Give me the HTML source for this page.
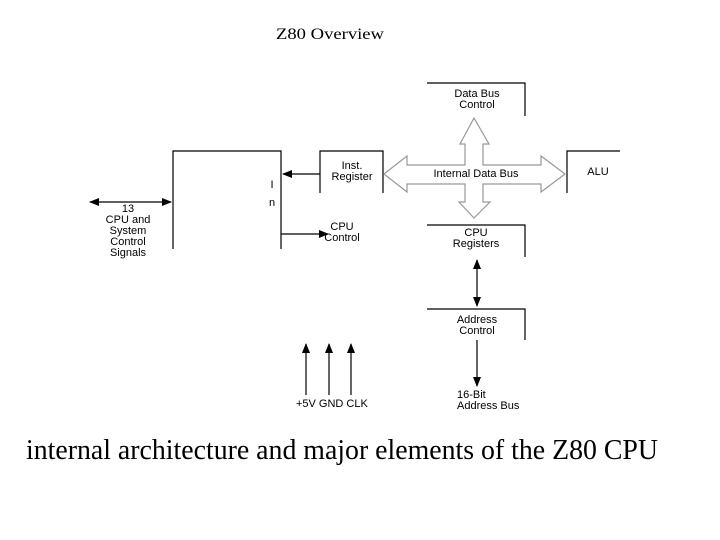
<!DOCTYPE html>
<html><head><style>
body{margin:0;background:#fff;}
svg{display:block}
.s{font-family:"Liberation Sans",sans-serif;font-size:11px;fill:#000}
</style></head><body>
<svg width="720" height="540" viewBox="0 0 720 540" xmlns="http://www.w3.org/2000/svg">
<defs>
<marker id="a" markerWidth="10" markerHeight="8" refX="9" refY="4" orient="auto" markerUnits="userSpaceOnUse"><path d="M0,0 L10,4 L0,8 Z" fill="#000"/></marker>
<marker id="b" markerWidth="10" markerHeight="8" refX="1" refY="4" orient="auto" markerUnits="userSpaceOnUse"><path d="M10,0 L0,4 L10,8 Z" fill="#000"/></marker>
</defs>
<text x="276" y="39" textLength="108" lengthAdjust="spacingAndGlyphs" font-family="Liberation Serif,serif" font-size="16">Z80 Overview</text>
<g stroke="#000" stroke-width="1.2" fill="none">
<path d="M427,83 H525 V116"/>
<path d="M173,249 V151 H281 V249"/>
<path d="M320,193 V151 H383 V193"/>
<path d="M567,193 V151 H620"/>
<path d="M427,225 H525 V257"/>
<path d="M427,309 H525 V340"/>
<line x1="320" y1="174" x2="283" y2="174" marker-end="url(#a)"/>
<line x1="281" y1="234" x2="328" y2="234" marker-end="url(#a)"/>
<line x1="90" y1="202" x2="171" y2="202" marker-start="url(#b)" marker-end="url(#a)"/>
<line x1="477" y1="260" x2="477" y2="306" marker-start="url(#b)" marker-end="url(#a)"/>
<line x1="477" y1="340" x2="477" y2="386" marker-end="url(#a)"/>
<line x1="306" y1="395" x2="306" y2="344" marker-end="url(#a)"/>
<line x1="329" y1="395" x2="329" y2="344" marker-end="url(#a)"/>
<line x1="351" y1="395" x2="351" y2="344" marker-end="url(#a)"/>
</g>
<path d="M384,174 L407,156 L407,165 L465,165 L465,144 L460,144 L474,118 L489,144 L483,144 L483,165 L541,165 L541,156 L565,174 L541,192 L541,184 L483,184 L483,202 L490,202 L474,218 L459,202 L465,202 L465,184 L407,184 L407,192 Z" fill="#fff" stroke="#999" stroke-width="1.2"/>
<text class="s" x="477" y="97" text-anchor="middle">Data Bus</text>
<text class="s" x="477" y="108" text-anchor="middle">Control</text>
<text class="s" x="352" y="169" text-anchor="middle">Inst.</text>
<text class="s" x="352" y="180" text-anchor="middle">Register</text>
<text class="s" x="476" y="177" text-anchor="middle">Internal Data Bus</text>
<text class="s" x="598" y="175" text-anchor="middle" font-size="12">ALU</text>
<text class="s" x="272" y="188" text-anchor="middle">I</text>
<text class="s" x="272" y="206" text-anchor="middle">n</text>
<text class="s" x="342" y="230" text-anchor="middle">CPU</text>
<text class="s" x="342" y="241" text-anchor="middle">Control</text>
<text class="s" x="476" y="236" text-anchor="middle">CPU</text>
<text class="s" x="476" y="247" text-anchor="middle">Registers</text>
<text class="s" x="128" y="212" text-anchor="middle">13</text>
<text class="s" x="128" y="223" text-anchor="middle">CPU and</text>
<text class="s" x="128" y="234" text-anchor="middle">System</text>
<text class="s" x="128" y="245" text-anchor="middle">Control</text>
<text class="s" x="128" y="256" text-anchor="middle">Signals</text>
<text class="s" x="477" y="323" text-anchor="middle">Address</text>
<text class="s" x="477" y="334" text-anchor="middle">Control</text>
<text class="s" x="457" y="398">16-Bit</text>
<text class="s" x="457" y="409">Address Bus</text>
<text class="s" x="296" y="407">+5V GND CLK</text>
<text x="26" y="459" textLength="632" lengthAdjust="spacingAndGlyphs" font-family="Liberation Serif,serif" font-size="28">internal architecture and major elements of the Z80 CPU</text>
</svg>
</body></html>
